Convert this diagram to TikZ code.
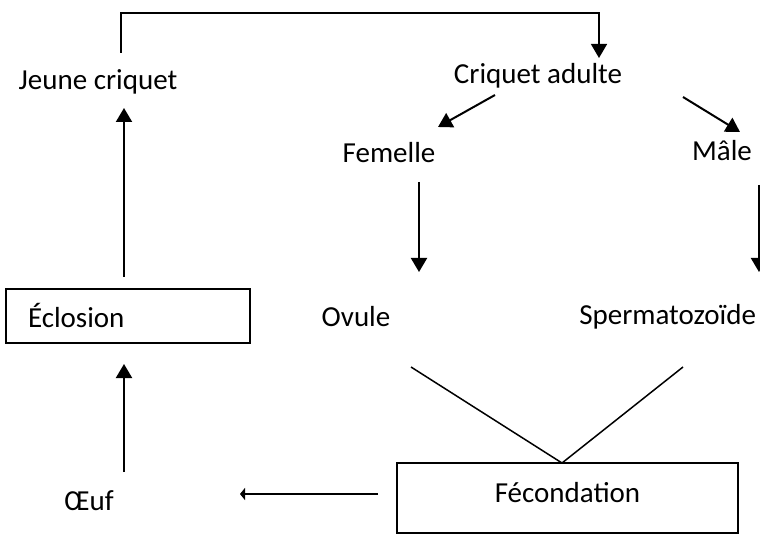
\documentclass[tikz,border=0pt]{standalone}
\usepackage{fontspec}
\setmainfont{Carlito}
\usetikzlibrary{arrows.meta}

\begin{document}
\begin{tikzpicture}[x=1pt,y=-1pt,>={Triangle[length=14pt,width=16pt]},line width=2pt,
    every node/.style={font=\fontsize{29}{35}\selectfont,inner sep=0pt},
    boite/.style={draw,line width=1.5pt},
    trait/.style={line width=1.5pt}]
  \useasboundingbox (0,0) rectangle (760,534);

  \node[anchor=base]      (jeune)   at (98,90)   {Jeune criquet};
  \node[anchor=base]      (adulte)  at (538,84)  {Criquet adulte};
  \node[anchor=base]      (femelle) at (389,163) {Femelle};
  \node[anchor=base]      (male)    at (722,161) {Mâle};
  \node[anchor=base]      (ovule)   at (356,327) {Ovule};
  \node[anchor=base east] (sperme)  at (757,325) {Spermatozoïde};
  \node[anchor=base]      (oeuf)    at (89,510)  {Œuf};
  \node[boite,minimum width=244pt,minimum height=54pt,text width=200pt,align=left,
        text height=24pt,text depth=0pt] (ecl) at (128,316) {Éclosion};
  \node[boite,minimum width=341pt,minimum height=70pt,
        text height=20pt,text depth=12pt] (fecond) at (567.5,498) {Fécondation};

  % bouts des fleches
  \coordinate (j-haut) at (121,53);
  \coordinate (a-haut) at (599,58);
  \coordinate (a-g) at (495,95);   \coordinate (f-h) at (438,127);
  \coordinate (a-d) at (683,97);   \coordinate (m-h) at (740,132);
  \coordinate (f-b) at (419,182);  \coordinate (o-h) at (419,272);
  \coordinate (m-b) at (759,185);  \coordinate (s-h) at (759,272);
  \coordinate (e-h) at (124,277);  \coordinate (j-b) at (124,108);
  \coordinate (oe-h) at (124,472); \coordinate (e-b) at (124,364);
  \coordinate (fe-g) at (378,494); \coordinate (oe-d) at (240,494);
  \coordinate (o-b) at (411,367);  \coordinate (s-b) at (683,367);
  \coordinate (fe-h) at (562,463);

  \draw[->,trait] (j-haut) -- ++(0,-40) -| (a-haut);
  \path[->] (a-g)  edge (f-h)
            (a-d)  edge (m-h)
            (f-b)  edge (o-h)
            (m-b)  edge (s-h)
            (e-h)  edge (j-b)
            (oe-h) edge (e-b);
  \draw[-{Triangle[length=5pt,width=12pt]}] (fe-g) -- (oe-d);
  \draw[trait] (o-b) -- (fe-h) -- (s-b);
\end{tikzpicture}
\end{document}
